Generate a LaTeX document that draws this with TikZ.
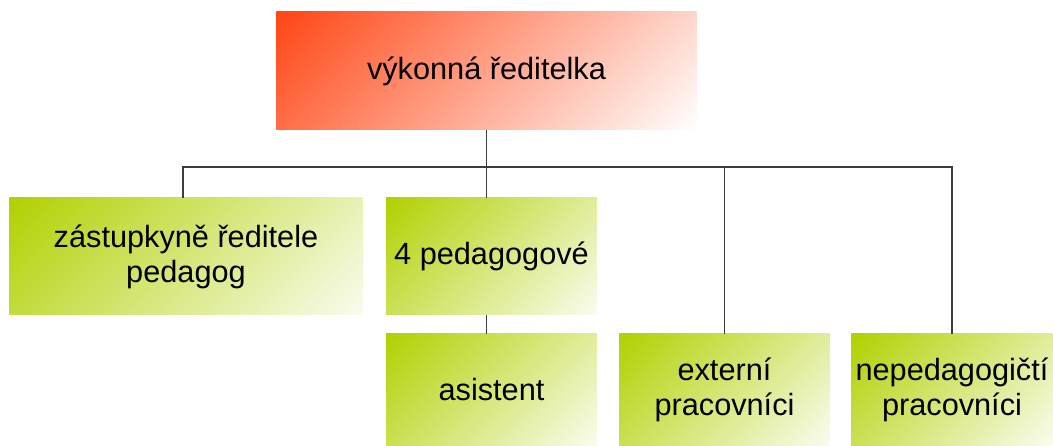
\documentclass[tikz,border=0pt]{standalone}
\usepackage{fontspec}
\setmainfont{Liberation Sans}
\usetikzlibrary{calc}

\definecolor{headfill}{HTML}{FF4514}
\definecolor{staffill}{HTML}{B2D000}
\definecolor{headend}{HTML}{FFFFFF}
\definecolor{staffend}{HTML}{FAFCF0}
\definecolor{linkgray}{HTML}{3C3C3C}

\tikzset{
  boxtext/.style={inner sep=0pt, align=center, text=black,
    font=\fontsize{30.7}{35}\selectfont},
  link/.style={draw=linkgray, line width=1.3pt},
}

% A box filled with a 45-degree gradient: from #6 at the top-left
% corner to #7 at the bottom-right corner, with a centred label.
% #1 name, #2 #3 top-left corner, #4 #5 bottom-right corner, #8 text
\newcommand\gradbox[8]{%
  \pgfmathsetmacro\bxc{(#2+#4)/2}%
  \pgfmathsetmacro\byc{(#3+#5)/2}%
  \pgfmathsetmacro\bw{#4-#2}%
  \pgfmathsetmacro\bh{#5-#3}%
  \pgfmathsetmacro\bd{(\bw+\bh)/(2*sqrt(2))}%
  \begin{scope}
    \clip (#2,#3) rectangle (#4,#5);
    \shade[transform canvas={rotate around={-45:(\bxc,\byc)}},
      left color=#6, right color=#7]
      (\bxc-\bd,\byc-\bd) rectangle (\bxc+\bd,\byc+\bd);
  \end{scope}
  \node[boxtext, minimum width=\bw pt, minimum height=\bh pt]
    (#1) at (\bxc,\byc) {#8};%
}

\begin{document}
\begin{tikzpicture}[x=1pt, y=-1pt]
  \useasboundingbox (0,0) rectangle (1053,446);

  \gradbox{head}{276}{12}{697}{130}{headfill}{headend}{výkonná ředitelka}
  \gradbox{deputy}{9}{198}{363}{315}{staffill}{staffend}{zástupkyně ředitele\\pedagog}
  \gradbox{teachers}{386}{198}{597}{315}{staffill}{staffend}{4 pedagogové}
  \gradbox{assistant}{386}{334}{597}{446}{staffill}{staffend}{asistent}
  \gradbox{external}{619}{334}{830}{446}{staffill}{staffend}{externí\\pracovníci}
  \gradbox{support}{851}{334}{1053}{446}{staffill}{staffend}{nepedagogičtí\\pracovníci}

  % level of the horizontal bus line and the drop points on the boxes
  \coordinate (bus) at (0,167);
  \coordinate (deputytop) at ($(deputy.north)+(-3,0)$);
  \coordinate (teacherstop) at (head.south |- teachers.north);
  \coordinate (teachersbottom) at (head.south |- teachers.south);
  \coordinate (assistanttop) at (head.south |- assistant.north);

  \draw[link] (head.south) |- (deputytop |- bus) -- (deputytop);
  \draw[link] (head.south) -- (teacherstop);
  \draw[link] (head.south) |- (external.north |- bus) -- (external.north);
  \draw[link] (head.south) |- (support.north |- bus) -- (support.north);
  \draw[link] (teachersbottom) -- (assistanttop);
\end{tikzpicture}
\end{document}
